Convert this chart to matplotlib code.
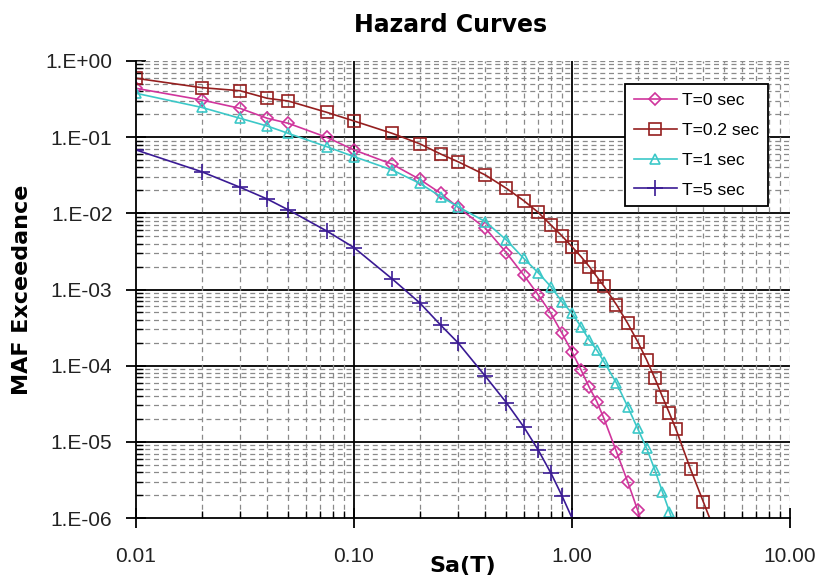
import numpy as np
import matplotlib
matplotlib.use("Agg")
import matplotlib.pyplot as plt
from matplotlib.ticker import LogLocator, FuncFormatter, NullFormatter

# Spectral acceleration values (g) shared by all curves
sa = [0.01, 0.02, 0.03, 0.04, 0.05, 0.075, 0.1, 0.15, 0.2, 0.25, 0.3, 0.4, 0.5,
      0.6, 0.7, 0.8, 0.9, 1.0, 1.1, 1.2, 1.3, 1.4, 1.6, 1.8, 2.0, 2.2, 2.4,
      2.6, 2.8, 3.0, 3.5, 4.0, 4.5]

# Mean annual frequency of exceedance
maf_t0 = [0.438, 0.308, 0.239, 0.177, 0.152, 0.0995, 0.068, 0.044, 0.028, 0.0183,
          0.012, 6.4e-3, 3.04e-3, 1.55e-3, 8.5e-4, 4.87e-4, 2.66e-4, 1.52e-4,
          8.8e-5, 5.2e-5, 3.37e-5, 2.04e-5, 7.4e-6, 3.0e-6, 1.27e-6, 5.4e-7]
maf_t02 = [0.593, 0.447, 0.407, 0.324, 0.298, 0.212, 0.163, 0.112, 0.082, 0.060,
           0.0476, 0.0319, 0.0213, 0.0147, 0.0103, 0.00703, 0.00504, 0.00365,
           0.0027, 0.0020, 0.00147, 0.00111, 6.3e-4, 3.6e-4, 2.07e-4, 1.19e-4,
           6.8e-5, 3.9e-5, 2.37e-5, 1.46e-5, 4.35e-6, 1.64e-6, 6.9e-7]
maf_t1 = [0.377, 0.246, 0.177, 0.14, 0.112, 0.075, 0.0555, 0.037, 0.0248, 0.0166,
          0.0122, 7.8e-3, 4.47e-3, 2.57e-3, 1.66e-3, 1.09e-3, 6.9e-4, 4.87e-4,
          3.25e-4, 2.17e-4, 1.6e-4, 1.13e-4, 5.9e-5, 2.9e-5, 1.5e-5, 8.2e-6,
          4.27e-6, 2.2e-6, 1.21e-6, 6.8e-7]
maf_t5 = [0.068, 0.0352, 0.022, 0.0154, 0.0111, 0.00586, 0.00355, 0.00137,
          6.7e-4, 3.4e-4, 2.0e-4, 7.3e-5, 3.27e-5, 1.58e-5, 7.8e-6, 3.9e-6,
          1.95e-6, 1.0e-6]

labels = ["T=0 sec", "T=0.2 sec", "T=1 sec", "T=5 sec"]
series = [maf_t0, maf_t02, maf_t1, maf_t5]
colors = ["#D0359C", "#951F1F", "#3CC8C8", "#3A1A94"]
markers = ["D", "s", "^", "+"]
msizes = [6, 8, 7.5, 11]

fig = plt.figure(figsize=(8.21, 5.79), dpi=100)
ax = fig.add_axes([136 / 821, 1 - 518 / 579, 654 / 821, 457 / 579])

for maf, lab, c, m, ms in zip(series, labels, colors, markers, msizes):
    ax.plot(sa[:len(maf)], maf, color=c, lw=1.2, marker=m, ms=ms,
            mfc="none", mec=c, mew=1.2, label=lab)

ax.set_xscale("log")
ax.set_yscale("log")
ax.set_xlim(0.01, 10)
ax.set_ylim(1e-6, 1)

# Gridlines: dashed grey minor, solid black major (interior only)
ax.xaxis.set_minor_locator(LogLocator(base=10, subs=np.arange(2, 10)))
ax.yaxis.set_minor_locator(LogLocator(base=10, subs=np.arange(2, 10)))
ax.grid(which="minor", color="#8a8a8a", linestyle=(0, (4, 3)), linewidth=0.9)
for v in [0.1, 1.0]:
    ax.axvline(v, color="black", lw=1.3, zorder=1)
for v in [1e-1, 1e-2, 1e-3, 1e-4, 1e-5]:
    ax.axhline(v, color="black", lw=1.3, zorder=1)
ax.axvline(10, color="#8a8a8a", lw=0.9, ls=(0, (4, 3)))
ax.axhline(1, color="#8a8a8a", lw=0.9, ls=(0, (4, 3)))

for s in ["top", "right"]:
    ax.spines[s].set_visible(False)
for s in ["left", "bottom"]:
    ax.spines[s].set_linewidth(1.3)

ax.xaxis.set_major_formatter(FuncFormatter(lambda v, p: f"{v:.2f}"))
ax.yaxis.set_major_formatter(
    FuncFormatter(lambda v, p: f"1.E{int(round(np.log10(v))):+03d}"))
ax.xaxis.set_minor_formatter(NullFormatter())
ax.yaxis.set_minor_formatter(NullFormatter())
ax.xaxis.label.set_visible(False)
ax.yaxis.label.set_visible(False)

ax.tick_params(which="major", direction="inout", length=14, width=1.3,
               colors="black", labelcolor="#222222")
ax.tick_params(axis="x", which="major", pad=14, labelsize=15)
ax.tick_params(axis="y", which="major", pad=10, labelsize=15)
ax.tick_params(which="minor", direction="in", length=5, width=1.0)
for lbl in ax.get_xticklabels() + ax.get_yticklabels():
    lbl.set_fontfamily("Liberation Sans")

leg = ax.legend(loc="upper right", bbox_to_anchor=(0.9664, 0.9497),
                prop={"family": "Liberation Sans", "size": 12.5},
                frameon=True, fancybox=False, framealpha=1,
                edgecolor="black", handlelength=2.5, handletextpad=0.3,
                labelspacing=0.85, borderpad=0.5, borderaxespad=0)
leg.get_frame().set_linewidth(1.3)

fig.text(451 / 821, 1 - 25 / 579, "Hazard Curves", ha="center", va="center",
         fontsize=17, fontweight="bold", family="DejaVu Sans")
fig.text(463 / 821, 1 - 566 / 579, "Sa(T)", ha="center", va="center",
         fontsize=16, fontweight="bold", family="DejaVu Sans")
fig.text(22 / 821, 1 - 290 / 579, "MAF Exceedance", ha="center", va="center",
         rotation=90, fontsize=16, fontweight="bold", family="DejaVu Sans")

fig.savefig("out.png", dpi=100)
